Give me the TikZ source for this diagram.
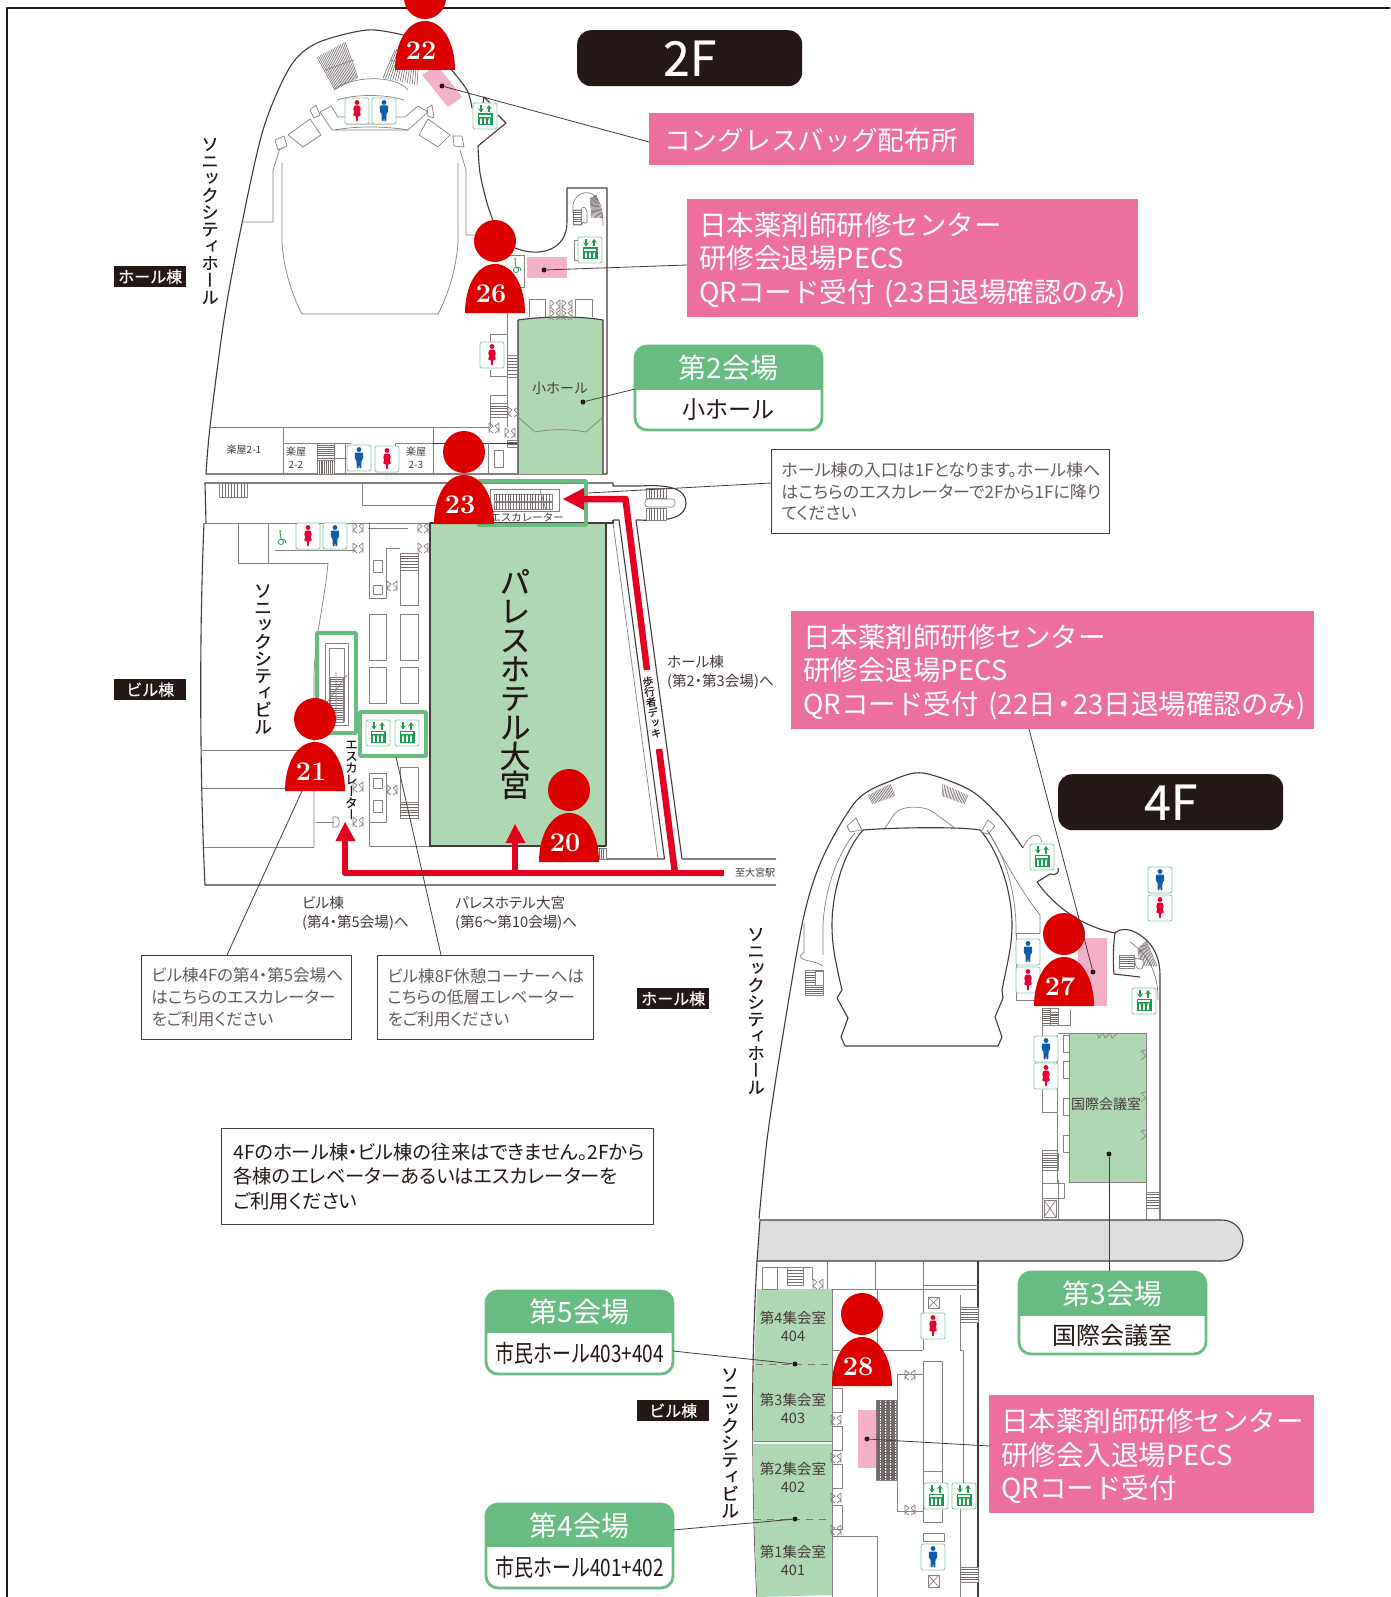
\documentclass[tikz,border=0pt]{standalone}
\usepackage{fontspec}
\usepackage{graphicx}
\usetikzlibrary{calc,arrows.meta}
\newfontfamily\jp{Noto Sans CJK JP}
\newfontfamily\jpp[RawFeature=+palt]{Noto Sans CJK JP}
\newfontfamily\jpb[FakeBold=0.5]{Noto Sans CJK JP}
\newfontfamily\vjp[RawFeature=+vert,FakeBold=0.2]{Noto Sans CJK JP}
\definecolor{inkk}{HTML}{231815}
\definecolor{redm}{HTML}{DC0000}
\definecolor{redr}{HTML}{E60020}
\definecolor{roomg}{HTML}{ADD8B1}
\definecolor{labg}{HTML}{68BC82}
\definecolor{labp}{HTML}{EC6F9E}
\definecolor{ltp}{HTML}{F3B0C6}
\definecolor{icg}{HTML}{8CCBA2}
\definecolor{elg}{HTML}{1F9A50}
\definecolor{manb}{HTML}{0F5CA8}
\definecolor{womr}{HTML}{E60033}
\definecolor{corr}{HTML}{DCDDDD}
\tikzset{
 wall/.style={draw=inkk!85,line width=1.1pt},
 thin/.style={draw=inkk!55,line width=.7pt},
 hatchl/.style={draw=inkk!65,line width=.55pt},
 leader/.style={draw=inkk!85,line width=.8pt},
 dotn/.style={circle,fill=inkk,inner sep=0pt,minimum size=5pt},
 blackbox/.style={fill=inkk,rounded corners=14pt,text=white,inner sep=0pt,anchor=north west},
 tagbox/.style={fill=inkk,text=white,inner sep=0pt,anchor=north west,font=\jpb\fontsize{16}{16}\selectfont},
 pinkbox/.style={fill=labp,anchor=north west,inner sep=0pt},
 pinktext/.style={text=white,anchor=west,inner sep=0pt,align=left,font=\jp\fontsize{27.5}{33.8}\selectfont},
 notebox/.style={draw=inkk!85,line width=.9pt,fill=white,anchor=north west,inner xsep=10pt,inner ysep=0pt,align=left,text=inkk!70,font=\jpp\fontsize{16.6}{21.8}\selectfont},
 plain/.style={inner sep=0pt,text=inkk!85,font=\jp\fontsize{13}{19}\selectfont},
 plainp/.style={inner sep=0pt,text=inkk!85,font=\jpp\fontsize{14.6}{19.2}\selectfont},
 numn/.style={inner sep=0pt,text=white,font=\bfseries\fontsize{27}{27}\selectfont},
 headn/.style={circle,fill=redm,inner sep=0pt,minimum size=42pt},
 route/.style={draw=redr,line width=6.5pt},
 greenframe/.style={draw=labg,line width=3.4pt},
}
\newcommand\hst[5]{\draw[thin,fill=white] (#1,#2) rectangle (#3,#4);
 \foreach \i in {1,...,#5}{\draw[hatchl] (#1,{#2+(#4-#2)*\i/(#5+1)}) -- (#3,{#2+(#4-#2)*\i/(#5+1)});}}
\newcommand\vst[5]{\draw[thin,fill=white] (#1,#2) rectangle (#3,#4);
 \foreach \i in {1,...,#5}{\draw[hatchl] ({#1+(#3-#1)*\i/(#5+1)},#2) -- ({#1+(#3-#1)*\i/(#5+1)},#4);}}
\newcommand\seat[9]{\foreach \i in {0,...,#9}{\draw[hatchl] ($(#1,#2)!{\i/#9}!(#3,#4)$) -- ($(#7,#8)!{\i/#9}!(#5,#6)$);}}
\newcommand\icbox{\draw[draw=icg,fill=white,line width=.9pt,rounded corners=2pt] (-12,-13) rectangle (12,13);}
\newcommand\man[2]{\begin{scope}[shift={(#1,#2)}]\icbox
 \fill[manb] (0,-8.5) circle[radius=2.4];
 \fill[manb,rounded corners=1pt] (-4.2,-5.5) -- (4.2,-5.5) -- (4.2,1.5) -- (2.6,1.5) -- (2.2,10.5) -- (.4,10.5) -- (0,3) -- (-.4,10.5) -- (-2.2,10.5) -- (-2.6,1.5) -- (-4.2,1.5) -- cycle;
 \end{scope}}
\newcommand\wom[2]{\begin{scope}[shift={(#1,#2)}]\icbox
 \fill[womr] (0,-8.5) circle[radius=2.4];
 \fill[womr,rounded corners=1pt] (-2.6,-5.5) -- (2.6,-5.5) -- (4,-1) -- (2.6,0) -- (4,5) -- (1,5) -- (.9,10.5) -- (-.9,10.5) -- (-1,5) -- (-4,5) -- (-2.6,0) -- (-4,-1) -- cycle;
 \end{scope}}
\newcommand\elev[2]{\begin{scope}[shift={(#1,#2)}]\icbox
 \draw[elg,line width=1.1pt,-{Stealth[length=4pt,width=5.5pt]}] (-4,-11) -- (-4,-3.5);
 \draw[elg,line width=1.1pt,-{Stealth[length=4pt,width=5.5pt]}] (4,-3.5) -- (4,-11);
 \fill[elg] (-7.5,-2.5) rectangle (7.5,9.5);
 \fill[white] (-6,-1) rectangle (6,1);
 \foreach \k in {-4.2,0,4.2}{\fill[white] (\k,3.2) circle[radius=1]; \fill[white] (\k-1,4.4) rectangle (\k+1,8.5);}
 \end{scope}}
\newcommand\dr[2]{\begin{scope}[shift={(#1,#2)}]
 \draw[thin] (-5,-5) -- (-1,-2) -- (-5,2) -- (-1,5) (5,-5) -- (1,-2) -- (5,2) -- (1,5) (-5,-5) -- (-5,5) (5,-5) -- (5,5);
 \end{scope}}
\newcommand\xbox[4]{\draw[thin,fill=white] (#1,#2) rectangle (#3,#4); \draw[thin] (#1,#2) -- (#3,#4) (#1,#4) -- (#3,#2);}
\newcommand\pin[4]{%
 \fill[redm] ({#2-30},{#3+72}) .. controls ({#2-30},{#3+45}) and ({#2-18},{#3+23}) .. ({#2},{#3+23}) .. controls ({#2+18},{#3+23}) and ({#2+30},{#3+45}) .. ({#2+30},{#3+72}) -- cycle;
 \node[headn] (#1h) at (#2,#3) {};
 \node[numn] (#1n) at ({#2-4},{#3+53}) {#4};}
\newcommand\venue[8]{%
 \fill[white,rounded corners=12pt] (#2,#3) rectangle (#4,#5);
 \begin{scope}\clip[rounded corners=12pt] (#2,#3) rectangle (#4,#5);\fill[labg] (#2,#3) rectangle (#4,#6);\end{scope}
 \draw[draw=labg,line width=2.8pt,rounded corners=12pt] (#2,#3) rectangle (#4,#5);
 \node[inner sep=0pt,text=white,font=\jp\fontsize{28}{28}\selectfont] (#1h) at ({(#2+#4)/2},{(#3+#6)/2}) {#7};
 \node[inner sep=0pt,text=inkk,font=\jp\fontsize{24}{24}\selectfont] (#1s) at ({(#2+#4)/2},{(#6+#5)/2}) {#8};}
% x y size baseline rot name
\newcommand\vtxt[6]{\node[inner sep=0pt,align=center,text=inkk,rotate=#5,font=\vjp\fontsize{#3}{#4}\selectfont] (#6) at (#1,#2)}
% name x y w h text
\newcommand\pinkl[6]{%
 \node[pinkbox,minimum width=#4pt,minimum height=#5pt] (#1) at (#2,#3) {};
 \node[pinktext] (#1t) at ({#2+12},{#3+#5/2+2}) {#6};}
\begin{document}
\begin{tikzpicture}[x=1pt,y=-1pt,line join=round]
\useasboundingbox (0,0) rectangle (1390,1597);
\fill[white] (0,0) rectangle (1390,1597);
\draw[draw=inkk,line width=1.6pt] (1390,8) -- (7,8) -- (7,1597);

%%%%%%%%%%%%%%%% 2F hall
\draw[wall] plot[smooth] coordinates {(206,474)(210,427)(224,320)(240,233)(263,130)(290,67)(317,43)(367,30)(403,35)};
\draw[wall] plot[smooth] coordinates {(450,68)(467,90)(472,108)};
\draw[wall] (498,115) -- (506,123) -- (478,146);
\draw[wall] plot[smooth] coordinates {(478,146)(480,173)(487,203)(495,226)};
\draw[wall] (515,248) .. controls (540,258) and (567,250) .. (567,222) -- (567,188) -- (607,188) -- (607,474) -- (206,474);
\draw[wall] (483,103) -- (484,97) -- (490,103);
\draw[thin] (458,163) -- (458,243) .. controls (456,270) and (448,295) .. (438,314) -- (302,314) .. controls (292,295) and (284,270) .. (282,243) -- (282,163);
\draw[thin] (242,222) -- (273,222) -- (273,170) -- (280,148);
\draw[thin] (490,235) -- (466,235) -- (466,170) -- (460,150);
\draw[thin] (288,135) -- (310,119) -- (321,135) -- (303,147) -- cycle;
\draw[thin] (419,135) -- (428,119) -- (450,135) -- (438,147) -- cycle;
\draw[thin] (320,112) -- (331,106) -- (338,117) -- (347,117) -- (347,124) -- (393,124) -- (393,117) -- (405,117) -- (418,106) -- (428,112) -- (408,130) -- (332,130) -- cycle;
\draw[thin] (335,130) .. controls (355,126) and (385,126) .. (408,130);
\draw[thin] (337,100) .. controls (355,94) and (385,94) .. (404,100);
\draw[thin] (334,90) .. controls (350,76) and (395,74) .. (408,90);
\draw[thin] (275,140) -- (284,136) -- (287,146) -- (278,150) -- cycle;
\draw[thin] (310,110) -- (316,105) -- (320,115) -- (314,118) -- cycle;
\draw[thin] (427,108) -- (432,105) -- (434,118) -- (428,116) -- cycle;
\draw[thin] (453,136) -- (462,136) -- (464,147) -- (454,146) -- cycle;
\seat{317}{57}{345}{42}{358}{78}{335}{90}{18}
\seat{395}{50}{420}{42}{417}{85}{383}{78}{14}
\draw[thin] (325,70) -- (354,60) (390,60) -- (415,68);
\man{384}{111}
\wom{357}{111}
\elev{485}{116}
\fill[roomg] (518,474) -- (518,320) .. controls (545,316) and (580,316) .. (603,320) -- (603,474) -- cycle;
\draw[wall] (518,474) -- (518,320) .. controls (545,316) and (580,316) .. (603,320) -- (603,474);
\draw[thin] (518,417) -- (535,432) .. controls (550,429) and (570,429) .. (586,432) -- (603,417);
\draw[thin] (529,317) -- (529,299) -- (545,299) -- (545,317);
\draw[thin] (575,317) -- (575,299) -- (592,299) -- (592,317);
\dr{555}{305}\dr{567}{305}\dr{555}{315}\dr{567}{315}
\draw[thin] (507,313) -- (507,427);
\draw[thin] (490,334) -- (507,334) (490,376) -- (507,376) (490,334) -- (490,345) (490,370) -- (490,376);
\draw[thin] (490,427) -- (490,395) -- (507,395);
\hst{507}{355}{517}{377}{6}
\hst{490}{403}{507}{417}{4}
\hst{507}{440}{517}{447}{2}
\dr{513}{412}\dr{510}{433}\dr{494}{428}
\wom{492}{355}
\draw[thin] (507,255) -- (524,255) -- (524,287) -- (507,287);
\draw[elg,line width=.8pt] (516,270) circle[radius=2.6];
\draw[elg,line width=.8pt] (515,260) -- (516,267) -- (520,268) -- (521,271);
\fill[elg] (515,259) circle[radius=1];
\draw[thin] (573,213) -- (573,205) .. controls (574,195) and (585,190) .. (592,194) .. controls (600,198) and (603,210) .. (603,226);
\draw[thin] (573,225) -- (582,225) -- (583,222) .. controls (586,225) and (588,222) .. (587,218) -- (587,212) .. controls (586,206) and (582,206) .. (581,210) -- (573,210);
\hst{573}{210}{581}{224}{5}
\seat{590}{198}{596}{195}{603}{218}{592}{218}{9}
\draw[thin,fill=white] (574,240) rectangle (584,260);
\elev{590}{250}
\draw[thin] (210,427) -- (490,427);
\draw[thin] (283,427) -- (283,474) (433,427) -- (433,474);
\draw[inkk!85,line width=.9pt] (433,443) -- (517,443);
\draw[thin] (488,443) -- (488,474) (517,443) -- (517,474);
\draw[thin,fill=white] (494,450) rectangle (503,467);
\draw[thin] (283,443) -- (351,443) (345,443) -- (345,474) (351,458) -- (334,458) (395,443) -- (395,447) (395,443) -- (433,443);
\vst{317}{460}{334}{474}{8}\hst{317}{443}{334}{460}{7}
\man{359}{458}
\wom{387}{459}
\node[plain,font=\jp\fontsize{10}{10}\selectfont] (rm21) at (244,450) {楽屋2-1};
\node[plain,align=center,font=\jp\fontsize{10}{12.5}\selectfont] (rm22) at (296,458) {楽屋\\2-2};
\node[plain,align=center,font=\jp\fontsize{10}{12.5}\selectfont] (rm23) at (416,458) {楽屋\\2-3};
\node[inner sep=0pt,text=inkk!85,font=\jp\fontsize{14}{14}\selectfont] (shn) at (560,388) {小ホール};
\fill[ltp] (527,257) rectangle (567,278);
\fill[ltp] (422,75) -- (437,65) -- (462,97) -- (448,107) -- cycle;
\vtxt{210}{221}{17.5}{17}{0}{t1} {ソ\\ニ\\ッ\\ク\\シ\\テ\\ィ\\ホ\\ー\\ル};

%%%%%%%%%%%%%%%% 2F building
\draw[wall] (206,523) -- (205,483) -- (613,483) -- (613,486) -- (640,486);
\draw[wall] (204,523) .. controls (199,640) and (200,780) .. (205,885) -- (776,885);
\draw[wall] (636,520) -- (682,859) -- (776,859);
\draw[wall] (613,520) -- (619,520) -- (664.5,859) -- (607,859);
\draw[thin] (613,523) -- (658,859);
\draw[wall] (640,486) .. controls (672,484) and (686,490) .. (686,503) .. controls (686,516) and (672,522) .. (640,520) -- (636,520);
\vst{646}{488}{666}{498}{6}
\vst{646}{508}{666}{520}{6}
\draw[thin,fill=white,rounded corners=3pt] (645,499) rectangle (675,507);
\vst{219}{483}{247}{497}{8}
\draw[thin] (362,483) -- (362,505) -- (435,505);
\draw[thin] (204,523) -- (430,523);
\draw[thin] (238,523) -- (238,563) -- (328,563);
\draw[thin] (268,523) -- (268,563);
\draw[thin] (275,550) -- (356,550);
\draw[thin] (328,563) .. controls (325,600) and (314,640) .. (314,680) -- (314,847);
\draw[thin] (202,750) -- (314,750) (202,788) -- (314,788) (204,847) -- (314,847);
\draw[thin] (316,822) -- (334,822);
\draw[thin] (369,522) -- (369,598) -- (386,598) -- (386,548) -- (400,548);
\draw[thin,fill=white] (373,560) rectangle (382,572);
\draw[thin,fill=white] (373,585) rectangle (382,594);
\hst{400}{553}{418}{570}{5}
\draw[thin] (400,570) -- (400,605) -- (418,605) -- (418,570);
\dr{392}{586}
\draw[thin] (369,614) rectangle (386,660) (400,614) rectangle (418,660) (369,667) rectangle (386,703) (400,667) rectangle (418,703);
\draw[thin] (369,773) -- (386,773) -- (386,822) -- (369,822) -- cycle;
\draw[thin,fill=white] (373,778) rectangle (382,788);
\draw[thin,fill=white] (373,800) rectangle (382,812);
\draw[thin] (369,822) -- (369,846) -- (430,846);
\hst{400}{802}{418}{818}{5}
\draw[thin] (400,767) -- (418,767) -- (418,802);
\draw[thin] (400,767) -- (400,802);
\dr{392}{790}
\dr{358}{528}\dr{358}{548}\dr{423}{528}\dr{423}{548}\dr{358}{787}\dr{358}{822}
\draw[thin] (368,528) -- (408,528);
\draw[thin] (333,817) -- (337,817) .. controls (340,817) and (340,827) .. (337,827) -- (333,827) -- cycle;
\fill[roomg] (430,523) rectangle (606,846);
\draw[wall] (430,523) rectangle (606,846);
\draw[wall] (606,523) -- (613,523) -- (613,520);
\vtxt{515}{684}{31}{29}{0}{t2} {パ\\レ\\ス\\ホ\\テ\\ル\\大\\宮};
\vst{592}{848}{606}{859}{5}
\wom{308}{536}
\man{335}{536}
\draw[elg,line width=.8pt] (281,542) circle[radius=2.6];
\draw[elg,line width=.8pt] (280,532) -- (281,539) -- (285,540) -- (286,543);
\fill[elg] (280,531) circle[radius=1];
\vtxt{263}{659}{18}{17}{0}{t3} {ソ\\ニ\\ッ\\ク\\シ\\テ\\ィ\\ビ\\ル};
\draw[thin] (490,489) rectangle (559,511);
\vst{494}{494}{552}{501}{20}
\vst{494}{502}{552}{509}{20}
\draw[thin] (540,490) -- (546,510);
\node[plain,font=\jp\fontsize{10.5}{10.5}\selectfont] (et1) at (527,517) {エスカレーター};
\draw[greenframe] (479,481) rectangle (586,525);
\draw[thin] (325,643) rectangle (348,725);
\draw[thin] (329,648) rectangle (344,721);
\hst{330}{677}{343}{722}{18}
\draw[thin] (336,672) -- (336,722) (325,705) -- (347,675);
\draw[greenframe] (317,633) rectangle (356,733);
\draw[greenframe] (360,712) rectangle (426,756);
\elev{378}{733}
\elev{407}{733}
\vtxt{351.5}{780}{12.5}{11.7}{0}{t4} {エ\\ス\\カ\\レ\\ー\\タ\\ー};
\draw[route] (675,873) -- (659,749);
\draw[route] (647,670) -- (625.5,499) -- (582,499);
\fill[redr] (563,499) -- (584,488) -- (584,510) -- cycle;
\draw[route] (724,873) -- (345,873) -- (345,838);
\draw[route] (515,873) -- (515,840);
\fill[redr] (345,822) -- (335.5,841) -- (355.5,841) -- cycle;
\fill[redr] (515,824) -- (505.5,843) -- (525.5,843) -- cycle;
\node[plain,font=\jp\fontsize{10}{10}\selectfont] (oomiya) at (755,873) {至大宮駅};
\node[plainp,anchor=west,align=left] (tohall) at (667,672) {ホール棟\\(第2・第3会場)へ};
\node[plainp,anchor=west,align=left] (tobld) at (302,913) {ビル棟\\(第4・第5会場)へ};
\node[plainp,anchor=west,align=left] (topal) at (455,913) {パレスホテル大宮\\(第6〜第10会場)へ};
\vtxt{652}{707}{10.5}{10.5}{9}{t5} {歩\\行\\者\\デ\\ッ\\キ};

%%%%%%%%%%%%%%%% 4F hall
\draw[thin] (804,923) -- (804,952) -- (800,956) .. controls (802,962) and (815,960) .. (823,966);
\draw[wall] plot[smooth] coordinates {(759,1219)(767,1140)(780,1053)(803,920)(823,857)(857,800)(893,780)(923,773)(970,790)(1000,817)(1023,848)};
\draw[wall] (1037,882) .. controls (1050,900) and (1075,925) .. (1115,933) .. controls (1120,928) and (1130,928) .. (1140,935) .. controls (1155,945) and (1160,960) .. (1160,975) -- (1160,1220);
\draw[wall] (1037,882) -- (1050,874) .. controls (1056,876) and (1060,872) .. (1058,868);
\draw[thin] (1023,848) .. controls (1030,832) and (1040,832) .. (1042,842);
\draw[wall] (863,830) .. controls (885,828) and (955,826) .. (980,830) .. controls (998,850) and (1012,890) .. (1012,925) .. controls (1012,945) and (1008,960) .. (1002,990) -- (1003,998) -- (995,1017) -- (1002,1037) -- (998,1046) -- (845,1046) -- (841,1037) -- (848,1018) -- (837,998) -- (842,990) .. controls (835,960) and (832,945) .. (832,925) .. controls (832,890) and (845,850) .. (863,830) -- cycle;
\draw[thin] (823,955) -- (823,925) .. controls (825,885) and (840,850) .. (855,833);
\draw[thin] (987,830) .. controls (1005,855) and (1015,890) .. (1016,925) -- (1016,935);
\draw[thin] (987,830) .. controls (1005,860) and (1020,890) .. (1040,915) -- (1040,933);
\draw[thin] (885,828) .. controls (892,818) and (895,812) .. (897,812) .. controls (900,807) and (925,803) .. (937,815) -- (955,828);
\draw[thin] (847,826) -- (856,818) -- (862,830) -- (850,832) -- cycle (981,832) -- (988,820) -- (995,826) -- (988,834) -- cycle;
\seat{868}{795}{890}{784}{895}{796}{873}{804}{16}
\seat{943}{784}{968}{795}{964}{804}{942}{796}{16}
\hst{805}{970}{823}{985}{5}
\hst{805}{985}{823}{995}{4}
\draw[thin,fill=white] (815,971) rectangle (823,985);
\fill[ltp] (1078,938) rectangle (1107,1006);
\draw[wall] (1115,933) .. controls (1113,945) and (1113,965) .. (1114,974) -- (1140,977);
\draw[thin] (1158,1000) .. controls (1158,985) and (1156,960) .. (1130,942);
\hst{1119}{955}{1134}{968}{5}
\seat{1138}{948}{1146}{941}{1157}{966}{1140}{966}{10}
\draw[thin,fill=white] (1135,958) .. controls (1133,970) and (1145,975) .. (1143,960) -- cycle;
\draw[thin] (1042,1008) rectangle (1058,1025);
\hst{1042}{1008}{1050}{1025}{7}
\hst{1050}{1012}{1058}{1025}{6}
\draw[thin] (1016,933) -- (1040,933) (1016,933) -- (1016,1000) -- (1036,1000);
\draw[thin] (1042,1025) -- (1042,1112) -- (1057,1112) (1058,1025) -- (1070,1025) -- (1070,1010) (1042,1150) -- (1042,1219) (1042,1150) -- (1057,1150) (1058,1180) -- (1058,1219) (1042,1183) -- (1064,1183) -- (1064,1198) -- (1042,1198);
\hst{1042}{1153}{1058}{1170}{6}
\xbox{1044}{1200}{1056}{1217}
\hst{1146}{1192}{1159}{1208}{5}
\draw[thin] (1146,1182) -- (1146,1220);
\draw[thin] (1058,1033) -- (1069,1033);
\draw[thin] (1057,1035) -- (1057,1183);
\foreach \yy in {1035,1061,1098,1135}{\draw[thin] (1063,\yy) rectangle (1069,{\yy+17});}
\fill[roomg] (1069,1033) rectangle (1146,1182);
\draw[thin] (1069,1182) -- (1146,1182) -- (1146,1033) -- (1069,1033) -- (1069,1182);
\draw[thin] (1097,1033) -- (1099,1038) -- (1103,1033) -- (1105,1038) -- (1110,1033) -- (1112,1038) -- (1118,1033);
\foreach \yy in {1050,1092,1130}{\draw[thin] (1146,\yy) -- (1141,\yy+1) -- (1146,\yy+6) -- (1141,\yy+10);}
\node[inner sep=0pt,text=inkk!85,font=\jp\fontsize{14}{14}\selectfont] (kkr) at (1106,1104) {国際会議室};
\elev{1042}{857}
\man{1160}{880}
\wom{1160}{908}
\man{1028}{952}
\wom{1028}{980}
\man{1046}{1049}
\wom{1046}{1076}
\elev{1144}{1001}
\vtxt{756}{1011}{17.5}{17}{0}{t6} {ソ\\ニ\\ッ\\ク\\シ\\テ\\ィ\\ホ\\ー\\ル};

%%%%%%%%%%%%%%%% 4F corridor and building
\draw[wall,fill=corr] (760,1220) -- (1222,1220) .. controls (1234,1220) and (1243,1230) .. (1243,1240) .. controls (1243,1252) and (1234,1261) .. (1222,1261) -- (757,1261) -- cycle;
\draw[wall] (757,1261) .. controls (753,1330) and (752,1400) .. (753,1442) .. controls (753,1500) and (755,1560) .. (757,1597);
\draw[wall] (978,1261) -- (978,1597);
\draw[thin] (827,1261) -- (827,1289) (875,1261) -- (875,1289) (923,1261) -- (923,1289);
\draw[thin] (832,1289) -- (960,1289) -- (978,1289);
\fill[roomg] (757,1289) -- (832,1289) -- (832,1595) -- (757,1597) .. controls (755,1560) and (753,1500) .. (753,1442) .. controls (753,1400) and (755,1340) .. (757,1289) -- cycle;
\draw[thin] (832,1289) -- (832,1597);
\draw[white,line width=1.4pt] (753,1443) -- (832,1443);
\draw[thin] (754,1441) -- (832,1441);
\draw[inkk!60,dash pattern=on 7pt off 6pt,line width=.8pt] (756,1364) -- (832,1364) (754,1519) -- (832,1519);
\foreach \nm/\a/\b/\yy in {r4/第4集会室/404/1326, r3/第3集会室/403/1408, r2/第2集会室/402/1477, r1/第1集会室/401/1560}{
 \node[inner sep=0pt,align=center,text=inkk!85,font=\jp\fontsize{14.5}{18}\selectfont] (\nm) at (793,\yy) {\a\\\b};}
\draw[thin] (762,1267) rectangle (777,1289) (777,1267) -- (812,1267) -- (812,1280);
\hst{787}{1267}{803}{1285}{5}
\dr{818}{1284}
\draw[thin] (877,1289) -- (877,1350) -- (923,1350);
\draw[thin] (923,1289) -- (923,1350);
\draw[thin] (832,1350) -- (840,1350);
\draw[thin] (923,1285) -- (978,1285) (960,1295) -- (960,1350) -- (963,1350) -- (963,1500) -- (960,1500) -- (960,1597);
\xbox{928}{1297}{939}{1308}
\xbox{928}{1575}{939}{1587}
\hst{960}{1307}{978}{1322}{5}
\hst{960}{1567}{978}{1582}{5}
\draw[thin] (923,1361) rectangle (942,1522);
\draw[thin] (923,1471) -- (942,1471);
\draw[thin] (897,1374) -- (923,1374) (897,1374) -- (897,1511) -- (923,1511);
\dr{910}{1375}\dr{910}{1510}
\draw[thin] (923,1533) rectangle (944,1541);
\draw[thin] (832,1536) -- (877,1536) -- (877,1597);
\foreach \yy in {1388,1426,1464,1505}{\draw[thin,fill=white] (832,\yy) rectangle (842,{\yy+24});}
\dr{836}{1420}\dr{836}{1458}\dr{836}{1498}\dr{836}{1530}
\fill[ltp] (858,1410) rectangle (876,1468);
\vst{876}{1400}{886}{1480}{7}
\vst{886}{1400}{896}{1480}{7}
\foreach \k in {1,...,30}{\draw[hatchl] (876,{1400+\k*2.6}) -- (896,{1400+\k*2.6});}
\wom{933}{1326}
\man{933}{1557}
\elev{936}{1496}
\elev{964}{1496}
\vtxt{730}{1443}{18}{17}{0}{t7} {ソ\\ニ\\ッ\\ク\\シ\\テ\\ィ\\ビ\\ル};

%%%%%%%%%%%%%%%% labels
\node[blackbox,minimum width=225pt,minimum height=56pt,font=\jpb\fontsize{48}{48}\selectfont] (f2) at (577,30) {2F};
\node[blackbox,minimum width=225pt,minimum height=56pt,font=\jpb\fontsize{48}{48}\selectfont] (f4) at (1058,774) {4F};
\node[tagbox,minimum width=72pt,minimum height=21pt] (tg1) at (114,266) {ホール棟};
\node[tagbox,minimum width=72pt,minimum height=21pt] (tg2) at (114,679) {ビル棟};
\node[tagbox,minimum width=72pt,minimum height=21pt] (tg3) at (637,988) {ホール棟};
\node[tagbox,minimum width=72pt,minimum height=21pt] (tg4) at (637,1400) {ビル棟};
\node[pinkbox,minimum width=325pt,minimum height=52pt] (lab1) at (649,113) {};
\node[pinktext,font=\jp\fontsize{26.7}{27}\selectfont] (lab1t) at (664,140) {コングレスバッグ配布所};
\pinkl{lab2}{687}{199}{451}{118}{日本薬剤師研修センター\\研修会退場PECS\\QRコード受付\kern10pt(23日退場確認のみ)}
\pinkl{lab3}{791}{611}{523}{118}{日本薬剤師研修センター\\研修会退場PECS\\QRコード受付\kern10pt(22日\kern-5pt・\kern-5pt23日退場確認のみ)}
\pinkl{lab4}{989}{1395}{325}{118}{日本薬剤師研修センター\\研修会入退場PECS\\QRコード受付}
\venue{g2}{635}{346}{822}{430}{390}{第2会場}{\scalebox{.96}[1]{小ホール}}
\venue{g3}{1019}{1272}{1206}{1354}{1316}{第3会場}{国際会議室}
\venue{g5}{486}{1291}{673}{1374}{1333}{第5会場}{\scalebox{.79}[1]{市民ホール403+404}}
\venue{g4}{486}{1504}{673}{1588}{1547}{第4会場}{\scalebox{.79}[1]{市民ホール401+402}}
\node[notebox,text width=318pt,minimum height=84pt,font=\jpp\fontsize{17}{21.8}\selectfont] (n1) at (771,449) {ホール棟の入口は1Fとなります。ホール棟へ\\はこちらのエスカレーターで2Fから1Fに降り\\てください};
\node[notebox,text width=190pt,minimum height=84pt] (n2) at (141,955) {ビル棟4Fの第4・第5会場へ\\はこちらのエスカレーター\\をご利用ください};
\node[notebox,text width=196pt,minimum height=84pt] (n3) at (377,955) {ビル棟8F休憩コーナーへは\\こちらの低層エレベーター\\をご利用ください};
\node[notebox,minimum height=96pt,text=inkk,inner xsep=12pt,text width=408pt,font=\jpp\fontsize{19.3}{24.4}\selectfont] (n4) at (221,1128) {4Fのホール棟・ビル棟の往来はできません。2Fから\\各棟のエレベーターあるいはエスカレーターを\\ご利用ください};

%%%%%%%%%%%%%%%% markers
\pin{p22}{425}{-2}{22}
\pin{p26}{495}{241}{26}
\pin{p23}{464}{452}{23}
\pin{p21}{315}{719}{21}
\pin{p20}{569}{790}{20}
\pin{p27}{1064}{934}{27}
\pin{p28}{862}{1314}{28}

%%%%%%%%%%%%%%%% leaders
\node[dotn] (d1) at (442,86) {};
\node[dotn] (d2) at (544,270) {};
\node[dotn] (d3) at (583,402) {};
\node[dotn] (d4) at (1093,972) {};
\node[dotn] (d5) at (1109,1154) {};
\node[dotn] (d6) at (795,1364) {};
\node[dotn] (d7) at (795,1519) {};
\node[dotn] (d8) at (867,1439) {};
\coordinate (e1) at (649,142);
\coordinate (e2) at (687,265);
\coordinate (e3) at (635,389);
\coordinate (e4) at (1029,729);
\coordinate (e5) at (1109,1271);
\coordinate (e6) at (673,1351);
\coordinate (e7) at (673,1530);
\coordinate (e8) at (989,1446);
\coordinate (e9) at (771,483);
\coordinate (e9s) at (588,493);
\coordinate (e10) at (302,791);
\coordinate (e10t) at (227,955);
\coordinate (e11) at (396,757);
\coordinate (e11t) at (441,955);
\draw[leader] (d1) -- (e1);
\draw[leader] (d2) -- (e2);
\draw[leader] (d3) -- (e3);
\draw[leader] (d4) -- (e4);
\draw[leader] (d5) -- (e5);
\draw[leader] (d6) -- (e6);
\draw[leader] (d7) -- (e7);
\draw[leader] (d8) -- (e8);
\draw[leader] (e9s) -- (e9);
\draw[leader] (e10) -- (e10t);
\draw[leader] (e11) -- (e11t);
\end{tikzpicture}
\end{document}
